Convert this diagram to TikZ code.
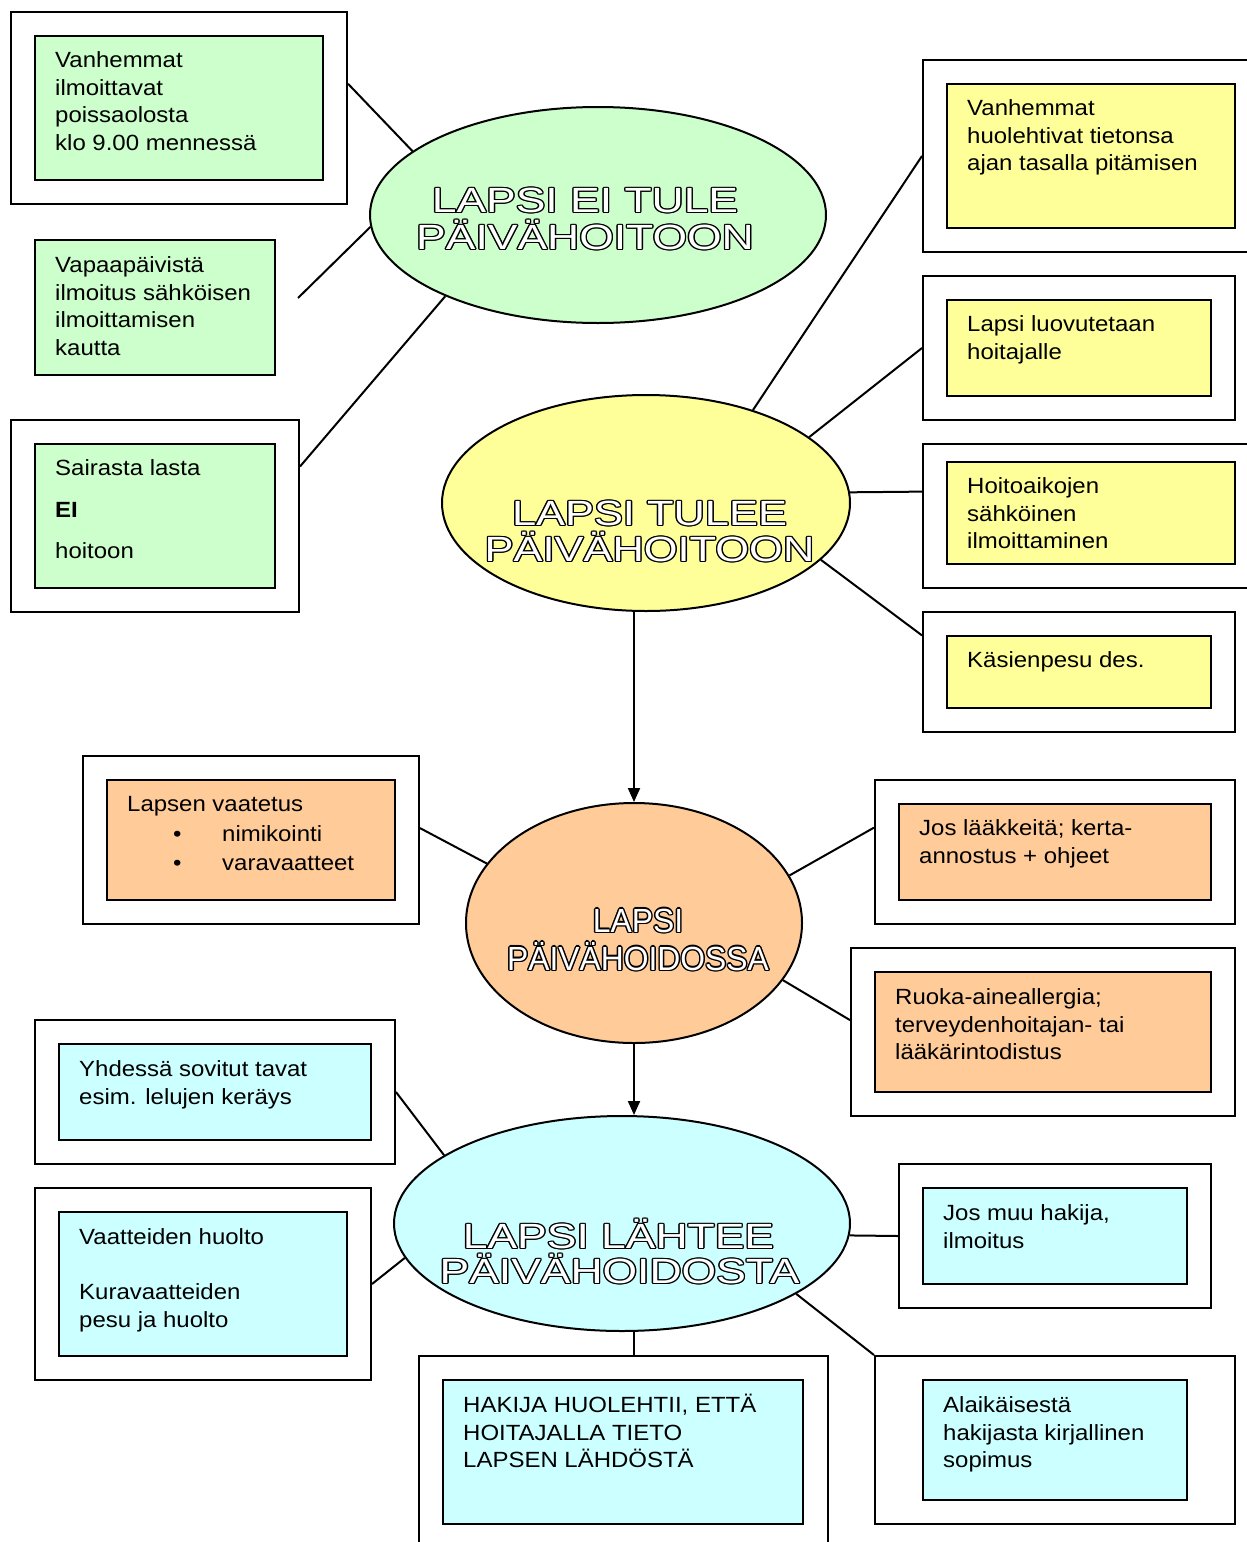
\documentclass[tikz,border=0pt]{standalone}
\usepackage{fontspec}
\setmainfont{Liberation Sans}
\newfontfamily\bodyf[FakeStretch=1.09]{Liberation Sans}
\newfontfamily\ellfA[FakeStretch=1.27]{Liberation Sans}
\newfontfamily\ellfB[FakeStretch=1.24]{Liberation Sans}
\newfontfamily\ellfC[FakeStretch=0.95]{Liberation Sans}
\usetikzlibrary{shapes.geometric,calc,arrows.meta}
\definecolor{cgreen}{HTML}{CCFFCC}
\definecolor{cyellow}{HTML}{FFFF99}
\definecolor{corange}{HTML}{FFCC99}
\definecolor{ccyan}{HTML}{CCFFFF}
\newsavebox\outbox
\newcommand\ocp[2]{\rlap{\hspace*{#1}\raisebox{#2}{\usebox\outbox}}}
\newcommand\outl[1]{\sbox\outbox{#1}%
  \ocp{1.4pt}{0pt}\ocp{-1.4pt}{0pt}\ocp{0pt}{1.4pt}\ocp{0pt}{-1.4pt}%
  \ocp{1pt}{1pt}\ocp{-1pt}{1pt}\ocp{1pt}{-1pt}\ocp{-1pt}{-1pt}%
  \textcolor{white}{#1}}
\tikzset{
  obox/.style={draw, line width=2pt, fill=white, inner sep=0pt, rectangle},
  ibox/.style={draw, line width=2pt, inner sep=0pt, rectangle},
  txt/.style={inner sep=0pt, font=\bodyf\fontsize{22}{27.5}\selectfont},
  conn/.style={line width=2pt},
  arr/.style={line width=2pt, -{Triangle[length=14pt,width=12pt]}},
  ell/.style={ellipse, draw, line width=2pt, inner sep=0pt},
  etA/.style={inner sep=0pt, font=\ellfA\fontsize{35}{40}\selectfont},
  etB/.style={inner sep=0pt, font=\ellfB\fontsize{35}{40}\selectfont},
  etC/.style={inner sep=0pt, font=\ellfC\fontsize{33.5}{40}\selectfont},
}
\newcommand\bx[6]{\node[#6, anchor=north west, minimum width={#4-#2}, minimum height={#5-#3}] (#1) at (#2,#3) {};}
\newcommand\txtlines[4]{%
  \foreach \tl [count=\ti from 0] in {#4}{%
    \node[txt, anchor=base west] (#1-\ti) at (#2, #3+7.9+\ti*27.5) {\tl};}}
\begin{document}
\begin{tikzpicture}[x=1pt, y=-1pt]
\useasboundingbox (0,0) rectangle (1247,1542);
\fill[white] (0,0) rectangle (1247,1542);
\clip (0,0) rectangle (1247,1542);

% ---------- ellipses ----------
\node[ell, fill=cgreen, minimum width=456, minimum height=216] (e1) at (598,215) {};
\node[ell, fill=cyellow, minimum width=408, minimum height=216] (e2) at (646,503) {};
\node[ell, fill=corange, minimum width=336, minimum height=240] (e3) at (634,923) {};
\node[ell, fill=ccyan, minimum width=456, minimum height=215] (e4) at (622,1223.5) {};

\node[etA, anchor=base] (e1-1) at (585,212.5) {\outl{LAPSI EI TULE}};
\node[etA, anchor=base] (e1-2) at (585,249.5) {\outl{PÄIVÄHOITOON}};
\node[etB, anchor=base] (e2-1) at (649.5,525.5) {\outl{LAPSI TULEE}};
\node[etB, anchor=base] (e2-2) at (649.5,561.5) {\outl{PÄIVÄHOITOON}};
\node[etC, anchor=base] (e3-1) at (638,932) {\outl{LAPSI}};
\node[etC, anchor=base] (e3-2) at (638,970) {\outl{PÄIVÄHOIDOSSA}};
\node[etA, anchor=base] (e4-1) at (618.5,1248.5) {\outl{LAPSI LÄHTEE}};
\node[etA, anchor=base] (e4-2) at (619.5,1283.5) {\outl{PÄIVÄHOIDOSTA}};

% ---------- green boxes ----------
\bx{g1o}{10}{11}{346}{203}{obox}
\bx{g1i}{34}{35}{322}{179}{ibox, fill=cgreen}
\txtlines{g1t}{55}{60}{Vanhemmat, ilmoittavat, poissaolosta, klo 9.00 mennessä}

\bx{g2i}{34}{239}{274}{374}{ibox, fill=cgreen}
\txtlines{g2t}{55}{265}{Vapaapäivistä, ilmoitus sähköisen, ilmoittamisen, kautta}

\bx{g3o}{10}{419}{298}{611}{obox}
\bx{g3i}{34}{443}{274}{587}{ibox, fill=cgreen}
\node[txt, anchor=base west] (g3t-0) at (55,475.9) {Sairasta lasta};
\node[txt, anchor=base west, font=\bodyf\bfseries\fontsize{22}{27.5}\selectfont] (g3t-1) at (55,517.9) {EI};
\node[txt, anchor=base west] (g3t-2) at (55,558.9) {hoitoon};

% ---------- yellow boxes ----------
\bx{y1o}{922}{59}{1262}{251}{obox}
\bx{y1i}{946}{83}{1234}{227}{ibox, fill=cyellow}
\txtlines{y1t}{967}{108}{Vanhemmat, huolehtivat tietonsa, ajan tasalla pitämisen}

\bx{y2o}{922}{275}{1234}{419}{obox}
\bx{y2i}{946}{299}{1210}{395}{ibox, fill=cyellow}
\txtlines{y2t}{967}{324}{Lapsi luovutetaan, hoitajalle}

\bx{y3o}{922}{443}{1262}{587}{obox}
\bx{y3i}{946}{461}{1234}{563}{ibox, fill=cyellow}
\txtlines{y3t}{967}{486}{Hoitoaikojen, sähköinen, ilmoittaminen}

\bx{y4o}{922}{611}{1234}{731}{obox}
\bx{y4i}{946}{635}{1210}{707}{ibox, fill=cyellow}
\txtlines{y4t}{967}{660}{Käsienpesu des.}

% ---------- orange boxes ----------
\bx{o1o}{82}{755}{418}{923}{obox}
\bx{o1i}{106}{779}{394}{899}{ibox, fill=corange}
\node[txt, anchor=base west] (o1t-0) at (127,811.9) {Lapsen vaatetus};
\node[txt, anchor=base west] (o1b-1) at (173,841.9) {•};
\node[txt, anchor=base west] (o1t-1) at (222,841.9) {nimikointi};
\node[txt, anchor=base west] (o1b-2) at (173,870.9) {•};
\node[txt, anchor=base west] (o1t-2) at (222,870.9) {varavaatteet};

\bx{o2o}{874}{779}{1234}{923}{obox}
\bx{o2i}{898}{803}{1210}{899}{ibox, fill=corange}
\txtlines{o2t}{919}{828}{Jos lääkkeitä; kerta-, annostus + ohjeet}

\bx{o3o}{850}{947}{1234}{1115}{obox}
\bx{o3i}{874}{971}{1210}{1091}{ibox, fill=corange}
\txtlines{o3t}{895}{997}{Ruoka-aineallergia;, terveydenhoitajan- tai, lääkärintodistus}

% ---------- cyan boxes ----------
\bx{c1o}{34}{1019}{394}{1163}{obox}
\bx{c1i}{58}{1043}{370}{1139}{ibox, fill=ccyan}
\txtlines{c1t}{79}{1069}{Yhdessä sovitut tavat, esim. lelujen keräys}

\bx{c2o}{34}{1187}{370}{1379}{obox}
\bx{c2i}{58}{1211}{346}{1355}{ibox, fill=ccyan}
\txtlines{c2a}{79}{1237}{Vaatteiden huolto}
\txtlines{c2b}{79}{1292}{Kuravaatteiden, pesu ja huolto}

\bx{c3o}{418}{1355}{827}{1560}{obox}
\bx{c3i}{442}{1379}{802}{1523}{ibox, fill=ccyan}
\txtlines{c3t}{463}{1405}{{HAKIJA HUOLEHTII, ETTÄ}, HOITAJALLA TIETO, LAPSEN LÄHDÖSTÄ}

\bx{c4o}{898}{1163}{1210}{1307}{obox}
\bx{c4i}{922}{1187}{1186}{1283}{ibox, fill=ccyan}
\txtlines{c4t}{943}{1213}{{Jos muu hakija,}, ilmoitus}

\bx{c5o}{874}{1355}{1234}{1523}{obox}
\bx{c5i}{922}{1379}{1186}{1499}{ibox, fill=ccyan}
\txtlines{c5t}{943}{1405}{Alaikäisestä, hakijasta kirjallinen, sopimus}

% ---------- connectors ----------
\coordinate (g2free) at (298,298);
\draw[conn] (e1.161.6) -- ($(g1o.north east)!0.375!(g1o.south east)$);
\draw[conn] (g2free) -- (e1.183.3);
\draw[conn] ($(g3o.north east)!0.245!(g3o.south east)$) -- (e1.208.4);

\draw[conn] (e2.41.7) -- (y1o.west);
\draw[conn] (e2.22.1) -- (y2o.west);
\draw[conn] (e2.3.4) -- ($(y3o.north west)!0.333!(y3o.south west)$);
\draw[conn] (e2.-18.3) -- ($(y4o.north west)!0.2!(y4o.south west)$);
\draw[arr] (e3.north |- e2.south) -- (e3.north);

\draw[conn] ($(o1o.north east)!0.43!(o1o.south east)$) -- (e3.158.8);
\draw[conn] (e3.17.2) -- ($(o2o.north west)!0.333!(o2o.south west)$);
\draw[conn] (e3.-21.4) -- ($(o3o.north west)!0.43!(o3o.south west)$);
\draw[arr] (e3.south) -- (e4.north -| e3.south);

\draw[conn] (c1o.east) -- (e4.159.6);
\draw[conn] (c2o.east) -- (e4.189.4);
\draw[conn] (e3.south |- e4.south) -- (e3.south |- c3o.north);
\draw[conn] (e4.-3) -- (c4o.west);
\draw[conn] (e4.-22.2) -- (c5o.north west);
\end{tikzpicture}
\end{document}
